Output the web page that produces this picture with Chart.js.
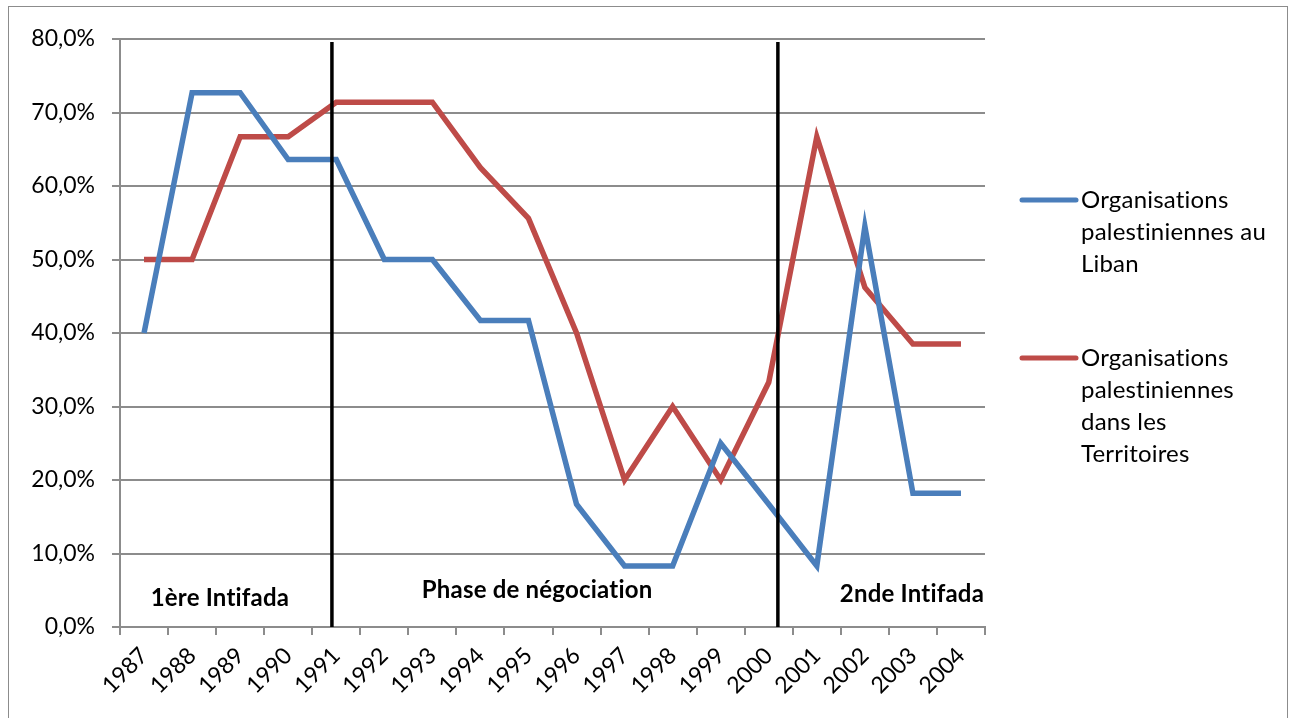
<!DOCTYPE html>
<html>
<head>
<meta charset="utf-8">
<script src="https://cdn.jsdelivr.net/npm/chart.js@4/dist/chart.umd.min.js"></script>
<style>
  html, body { margin: 0; padding: 0; background: #fff; }
  #wrap { width: 1295px; height: 718px; position: relative; }
</style>
</head>
<body>
<div id="wrap"><canvas id="chart"></canvas></div>
<script>
// years on the x axis
const years = ["1987","1988","1989","1990","1991","1992","1993","1994","1995","1996","1997","1998","1999","2000","2001","2002","2003","2004"];

// share (%) per year
const liban = [40.0, 72.7, 72.7, 63.6, 63.6, 50.0, 50.0, 41.7, 41.7, 16.7, 8.3, 8.3, 25.0, 16.7, 8.3, 54.5, 18.2, 18.2];
const territoires = [50.0, 50.0, 66.7, 66.7, 71.4, 71.4, 71.4, 62.5, 55.6, 40.0, 20.0, 30.0, 20.0, 33.3, 66.7, 46.2, 38.5, 38.5];

const seriesNames = ["Organisations palestiniennes au Liban", "Organisations palestiniennes dans les Territoires"];
const legendLines = [
  ["Organisations", "palestiniennes au", "Liban"],
  ["Organisations", "palestiniennes", "dans les", "Territoires"]
];
const seriesColors = ["#4A7EBB", "#BE4B48"];

// phase separators (category index, fractional) and phase labels
const phaseBreaks = [3.91, 13.19];
const phaseLabels = [
  { text: "1ère Intifada", at: 1.58, value: 3.9 },
  { text: "Phase de négociation", at: 8.18, value: 5.0 },
  { text: "2nde Intifada", at: 15.98, value: 4.5 }
];

const FONT = "Lato, 'Open Sans', sans-serif";

// frame, separators, phase labels, legend
const decorPlugin = {
  id: "decor",
  beforeDraw(chart) {
    const ctx = chart.ctx;
    ctx.save();
    ctx.fillStyle = "#fff";
    ctx.fillRect(0, 0, chart.width, chart.height);
    ctx.strokeStyle = "#8c8c8c";
    ctx.lineWidth = 1;
    ctx.strokeRect(8.5, 6.5, 1279, 730);
    ctx.restore();
  },
  afterDatasetsDraw(chart) {
    const ctx = chart.ctx;
    const x = chart.scales.x, y = chart.scales.y;
    const area = chart.chartArea;
    ctx.save();
    // vertical phase lines
    ctx.strokeStyle = "#000";
    ctx.lineWidth = 3.5;
    phaseBreaks.forEach(b => {
      const px = x.getPixelForValue(b);
      ctx.beginPath();
      ctx.moveTo(px, area.top + 3);
      ctx.lineTo(px, area.bottom);
      ctx.stroke();
    });
    // phase labels (small letter spacing keeps "ti" from forming a ligature)
    ctx.letterSpacing = "0.2px";
    ctx.fillStyle = "#000";
    ctx.font = "bold 24px " + FONT;
    ctx.textAlign = "center";
    ctx.textBaseline = "middle";
    phaseLabels.forEach(p => {
      ctx.fillText(p.text, x.getPixelForValue(p.at), y.getPixelForValue(p.value));
    });
    // legend
    const lx = 1022, tx = 1081;
    const tops = [200, 358];
    ctx.font = "24px " + FONT;
    ctx.textAlign = "left";
    chart.data.datasets.forEach((ds, i) => {
      ctx.strokeStyle = ds.borderColor;
      ctx.lineWidth = 5;
      ctx.lineCap = "round";
      ctx.beginPath();
      ctx.moveTo(lx, tops[i]);
      ctx.lineTo(tx - 5, tops[i]);
      ctx.stroke();
      legendLines[i].forEach((line, k) => {
        ctx.fillText(line, tx, tops[i] + k * 32);
      });
    });
    ctx.restore();
  }
};

new Chart(document.getElementById("chart"), {
  type: "line",
  data: {
    labels: years,
    datasets: [
      { label: seriesNames[0], data: liban, borderColor: seriesColors[0], backgroundColor: seriesColors[0], borderWidth: 5.5, pointRadius: 0, tension: 0, fill: false },
      { label: seriesNames[1], data: territoires, borderColor: seriesColors[1], backgroundColor: seriesColors[1], borderWidth: 5.5, pointRadius: 0, tension: 0, fill: false }
    ]
  },
  options: {
    responsive: true,
    maintainAspectRatio: false,
    animation: false,
    layout: { padding: { left: 10, top: 39, right: 310, bottom: 0 } },
    plugins: {
      legend: { display: false },
      tooltip: { enabled: false }
    },
    scales: {
      x: {
        offset: true,
        afterFit: s => { s.height = 91; },
        grid: { drawOnChartArea: false, offset: true, color: "#8c8c8c", lineWidth: 2, tickLength: 8, tickColor: "#8c8c8c" },
        border: { color: "#8c8c8c", width: 2 },
        ticks: { color: "#000", font: { family: FONT, size: 23 }, minRotation: 45, maxRotation: 45, autoSkip: false, padding: 7 }
      },
      y: {
        min: 0,
        max: 80,
        afterFit: s => { s.width = 110; },
        grid: { color: "#8c8c8c", lineWidth: 2, tickLength: 8 },
        border: { color: "#8c8c8c", width: 2 },
        ticks: {
          stepSize: 10,
          color: "#000",
          padding: 17,
          font: { family: FONT, size: 23 },
          callback: v => v.toFixed(1).replace(".", ",") + "%"
        }
      }
    }
  },
  plugins: [decorPlugin]
});
</script>
</body>
</html>
